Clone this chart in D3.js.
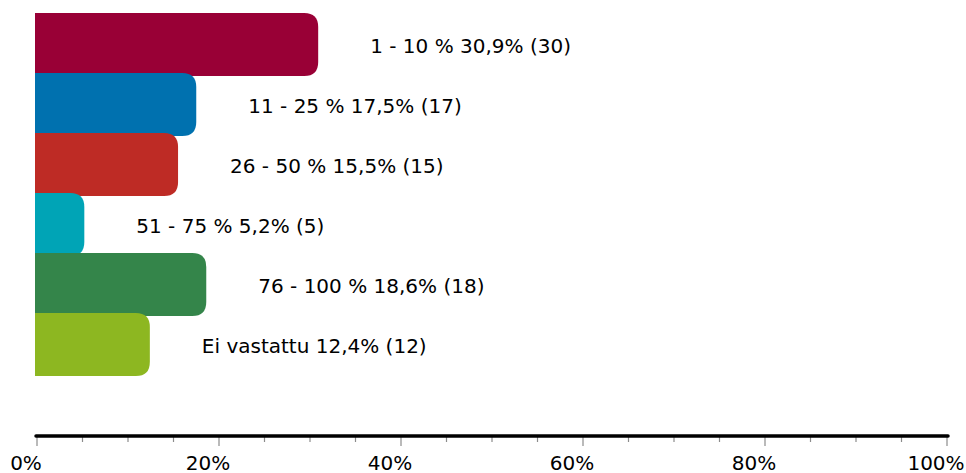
<!DOCTYPE html>
<html>
<head>
<meta charset="utf-8">
<script src="https://cdn.jsdelivr.net/npm/d3@7"></script>
<style>
  html, body { margin: 0; padding: 0; background: #ffffff; }
  svg { display: block; }
  text { font-family: "DejaVu Sans", Verdana, sans-serif; fill: #000; }
</style>
</head>
<body>
<svg id="chart" width="966" height="473"></svg>
<script>
const categories = ["1 - 10 %", "11 - 25 %", "26 - 50 %", "51 - 75 %", "76 - 100 %", "Ei vastattu"];
const percents = [30.9, 17.5, 15.5, 5.2, 18.6, 12.4];
const counts = [30, 17, 15, 5, 18, 12];
const percentLabels = ["30,9%", "17,5%", "15,5%", "5,2%", "18,6%", "12,4%"];
const colors = ["#990036", "#0071AF", "#BE2B25", "#00A4B6", "#34854A", "#8DB721"];
const tickValues = [0, 20, 40, 60, 80, 100];
const minorTickValues = d3.range(0, 101, 5);

const svg = d3.select("#chart");

const x = d3.scaleLinear().domain([0, 100]).range([37, 947]);
const y = d3.scaleBand().domain(categories).range([13, 373]).paddingInner(0).paddingOuter(0);

const overlap = 3;
const r = 14;

function barPath(x0, x1, y0, h) {
  const rr = Math.min(r, (x1 - x0), h / 2);
  return `M${x0},${y0} L${x1 - rr},${y0} Q${x1},${y0} ${x1},${y0 + rr} L${x1},${y0 + h - rr} Q${x1},${y0 + h} ${x1 - rr},${y0 + h} L${x0},${y0 + h} Z`;
}

const data = categories.map((c, i) => ({ c, p: percents[i], n: counts[i], pl: percentLabels[i], col: colors[i] }));

svg.append("g").selectAll("path")
  .data(data)
  .join("path")
  .attr("d", d => barPath(x(0) - 2, x(d.p), y(d.c), y.bandwidth() + overlap))
  .attr("fill", d => d.col);

svg.append("g").selectAll("text")
  .data(data)
  .join("text")
  .attr("x", d => x(d.p) + 52)
  .attr("y", d => y(d.c) + (y.bandwidth() + overlap) / 2 + 3)
  .attr("dominant-baseline", "middle")
  .attr("font-size", 20)
  .text(d => `${d.c} ${d.pl} (${d.n})`);

// axis
const axisY = 436;
const axisG = svg.append("g");
axisG.selectAll("line.minor")
  .data(minorTickValues)
  .join("line")
  .attr("class", "minor")
  .attr("x1", d => x(d)).attr("x2", d => x(d))
  .attr("y1", axisY).attr("y2", d => tickValues.includes(d) ? axisY + 10 : axisY + 6)
  .attr("stroke", "#8c8c8c")
  .attr("stroke-width", 1.2);

axisG.append("line")
  .attr("x1", x(0) - 1).attr("x2", x(100) + 1)
  .attr("y1", axisY).attr("y2", axisY)
  .attr("stroke", "#000")
  .attr("stroke-width", 3.5)
  .attr("stroke-linecap", "round");

axisG.selectAll("text")
  .data(tickValues)
  .join("text")
  .attr("x", d => x(d) - 11)
  .attr("y", 464)
  .attr("text-anchor", "middle")
  .attr("dominant-baseline", "middle")
  .attr("font-size", 20)
  .text(d => d + "%");
</script>
</body>
</html>
